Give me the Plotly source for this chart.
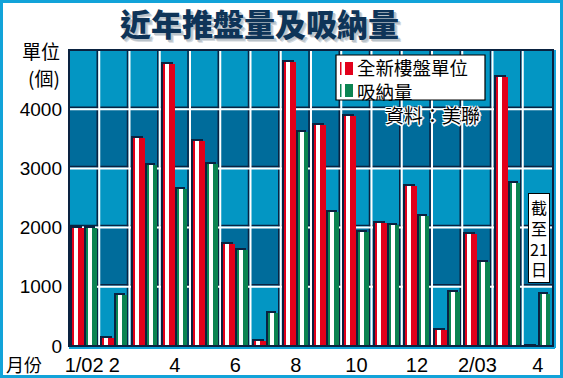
import plotly.graph_objects as go

# ---------------- data ----------------
months = ["1/02", "2", "3", "4", "5", "6", "7", "8", "9", "10", "11", "12", "1/03", "2/03", "3", "4"]
tick_labels = ["1/02", "2", "", "4", "", "6", "", "8", "", "10", "", "12", "", "2/03", "", "4"]
new_units = [1990, 130, 3510, 4760, 3470, 1730, 90, 4790, 3740, 3890, 2080, 2700, 270, 1900, 4540, 0]
absorbed = [2000, 860, 3050, 2660, 3070, 1620, 560, 3610, 2260, 1920, 2040, 2190, 915, 1425, 2760, 880]
y_ticks = [0, 1000, 2000, 3000, 4000]
series_names = ["全新樓盤單位", "吸納量"]

# ---------------- style ----------------
RED = "#E2001A"
GREEN = "#0B8451"
SHADOW = "#0A2240"
LIGHT = "#0396C3"
DARK = "#006C9B"
NAVY = "#0E3458"
FRAME = "#12A3D9"
FONT = "Liberation Sans, Arial, sans-serif"
CJK = "Noto Sans CJK TC, Noto Sans CJK SC, sans-serif"

W, H = 563, 378
L, R, T, B = 69, 10, 50, 32
PW, PH = W - L - R, H - T - B
YMAX = 5000
px_y = YMAX / PH          # data units per pixel (y)
px_x = 16 / PW            # category units per pixel (x)

x = list(range(len(months)))
fig = go.Figure()

def add_bar(vals, color, off, width, name):
    # shadow (offset up-left)
    fig.add_trace(go.Bar(x=x, y=[v + 2 * px_y for v in vals], offset=off - 2 * px_x, width=width,
                         marker=dict(color=SHADOW, line=dict(width=0)), showlegend=False, hoverinfo="skip"))
    # body
    fig.add_trace(go.Bar(x=x, y=vals, offset=off, width=width, name=name, showlegend=False,
                         marker=dict(color=color, line=dict(width=0))))
    # highlight stripe
    fig.add_trace(go.Bar(x=x, y=vals, offset=off + 2 * px_x, width=4 * px_x,
                         marker=dict(color="white", line=dict(width=0)), showlegend=False, hoverinfo="skip"))

add_bar(new_units, RED, -0.40, 0.40, series_names[0])
add_bar(absorbed, GREEN, 0.065, 0.35, series_names[1])


def px2paper_x(px):
    return (px - L) / PW


def px2paper_y(py):
    return (H - B - py) / PH


shapes = []
# background bands
for k in range(5):
    shapes.append(dict(type="rect", xref="paper", yref="y", x0=0, x1=1, y0=k * 1000, y1=(k + 1) * 1000,
                       fillcolor=LIGHT if k % 2 == 0 else DARK, line=dict(width=0), layer="below"))
# cell shadow lines
for i in range(len(months) - 1):
    xb = i + 0.5
    shapes.append(dict(type="line", xref="x", yref="paper", x0=xb - 2 * px_x, x1=xb - 2 * px_x, y0=0, y1=1,
                       line=dict(color=SHADOW, width=1.5), layer="below"))
for v in y_ticks[1:] + [YMAX]:
    shapes.append(dict(type="line", xref="paper", yref="y", x0=0, x1=1, y0=v + 2 * px_y, y1=v + 2 * px_y,
                       line=dict(color=SHADOW, width=1.5), layer="below"))
# white grid lines
for i in range(len(months) - 1):
    xb = i + 0.5
    shapes.append(dict(type="line", xref="x", yref="paper", x0=xb, x1=xb, y0=0, y1=1,
                       line=dict(color="white", width=2), layer="below"))
for v in y_ticks[1:]:
    shapes.append(dict(type="line", xref="paper", yref="y", x0=0, x1=1, y0=v, y1=v,
                       line=dict(color="white", width=2), layer="below"))
# plot border
shapes.append(dict(type="rect", xref="paper", yref="paper", x0=0, x1=1, y0=0, y1=1,
                   line=dict(color=SHADOW, width=2), layer="above"))
shapes.append(dict(type="line", xref="paper", yref="paper", x0=0, x1=1 + 2 / PW, y0=-2 / PH, y1=-2 / PH,
                   line=dict(color=FRAME, width=2), layer="above"))
shapes.append(dict(type="line", xref="paper", yref="paper", x0=1 + 2 / PW, x1=1 + 2 / PW, y0=-2 / PH, y1=1,
                   line=dict(color=FRAME, width=2), layer="above"))
# outer frame
shapes.append(dict(type="rect", xref="paper", yref="paper",
                   x0=px2paper_x(1.5), x1=px2paper_x(W - 1.5),
                   y0=px2paper_y(H - 1.5), y1=px2paper_y(1.5),
                   line=dict(color=FRAME, width=3), layer="above"))

# custom legend box
shapes.append(dict(type="rect", xref="paper", yref="paper",
                   x0=px2paper_x(336), x1=px2paper_x(485), y0=px2paper_y(100), y1=px2paper_y(55),
                   fillcolor="white", line=dict(color="black", width=1.2), layer="above"))
for (ctop, cbot), col in zip([(62, 75), (84, 97)], [RED, GREEN]):
    shapes.append(dict(type="rect", xref="paper", yref="paper",
                       x0=px2paper_x(340), x1=px2paper_x(341.5), y0=px2paper_y(cbot), y1=px2paper_y(ctop),
                       fillcolor=col, line=dict(width=0), layer="above"))
    shapes.append(dict(type="rect", xref="paper", yref="paper",
                       x0=px2paper_x(345), x1=px2paper_x(353), y0=px2paper_y(cbot), y1=px2paper_y(ctop),
                       fillcolor=col, line=dict(width=0), layer="above"))

outline = "-1px -1px 0 #fff, 1px -1px 0 #fff, -1px 1px 0 #fff, 1px 1px 0 #fff, 0 2px 0 #fff, 2px 0 0 #fff"

annotations = [
    dict(text="近年推盤量及吸納量", xref="paper", yref="paper", x=px2paper_x(259), y=px2paper_y(23),
         showarrow=False, xanchor="center", yanchor="middle",
         font=dict(family=CJK, size=31, color=NAVY, weight=900,
                   shadow="2px 2px 0 #b9c2c9, 3px 3px 0 #d5dadf, -1px -1px 0 #fff")),
    dict(text="單位", xref="paper", yref="paper", x=px2paper_x(62), y=px2paper_y(50),
         showarrow=False, xanchor="right", yanchor="middle", font=dict(family=CJK, size=19, color="black")),
    dict(text="(個)", xref="paper", yref="paper", x=px2paper_x(62), y=px2paper_y(77),
         showarrow=False, xanchor="right", yanchor="middle", font=dict(family=CJK, size=19, color="black")),
    dict(text="月份", xref="paper", yref="paper", x=px2paper_x(4), y=px2paper_y(364),
         showarrow=False, xanchor="left", yanchor="middle", font=dict(family=CJK, size=18, color="black")),
    dict(text="<br>".join(series_names), xref="paper", yref="paper", x=px2paper_x(355), y=px2paper_y(79),
         showarrow=False, xanchor="left", yanchor="middle", align="left",
         font=dict(family=CJK, size=18.5, color="black")),
    dict(text="資料：美聯", xref="paper", yref="paper", x=px2paper_x(432), y=px2paper_y(114),
         showarrow=False, xanchor="center", yanchor="middle",
         font=dict(family=CJK, size=19, color="black", shadow=outline)),
    dict(text="截<br>至<br>21<br>日", xref="paper", yref="paper", x=px2paper_x(538.5), y=px2paper_y(238),
         showarrow=False, xanchor="center", yanchor="middle", bgcolor="white", bordercolor="black",
         borderwidth=1, borderpad=1, font=dict(family=CJK, size=16, color="black")),
]

fig.update_layout(
    width=W, height=H,
    margin=dict(l=L, r=R, t=T, b=B, autoexpand=False),
    paper_bgcolor="white", plot_bgcolor=LIGHT,
    barmode="overlay", bargap=0,
    showlegend=False,
    xaxis=dict(range=[-0.5, 15.5], tickmode="array", tickvals=x, ticktext=tick_labels,
               showgrid=False, zeroline=False, ticks="", fixedrange=True, automargin=False,
               ticklabelstandoff=5,
               tickfont=dict(family=FONT, size=20, color="black")),
    yaxis=dict(range=[0, YMAX], tickmode="array", tickvals=y_ticks, ticktext=[str(v) for v in y_ticks],
               showgrid=False, zeroline=False, ticks="", ticklabelstandoff=6, automargin=False,
               tickfont=dict(family=FONT, size=19, color="black")),
    shapes=shapes,
    annotations=annotations,
)

fig.write_html("out.html", config={"displayModeBar": False},
               post_script="document.body.style.margin='0';document.body.style.overflow='hidden';")
